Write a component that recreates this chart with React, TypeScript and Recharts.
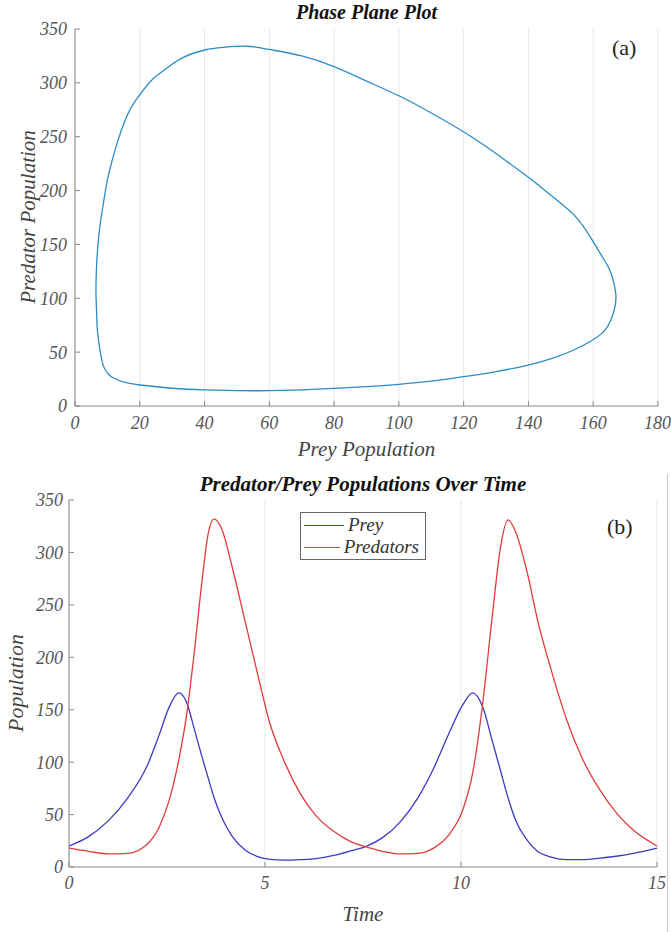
import React from "react";
import { LineChart, Line, XAxis, YAxis, CartesianGrid, Legend } from "recharts";

// phase plane loop (prey, predator) (a)
const phasePrey = [
  20, 30, 40, 50, 60, 70, 80, 90, 100, 110, 120, 130, 140, 148, 154, 159.7,
  163.5, 165.5, 166.7, 167, 166.3, 165, 162.5, 159.5, 154.5, 148, 141, 132,
  122.4, 110, 100, 89, 80, 70, 60, 53, 46, 40, 33, 28.3, 24.2, 20, 16, 12.4,
  10.8, 9.8, 8.6, 7.7, 7.1, 6.7, 6.5, 6.5, 6.7, 6.9, 7.7, 8.8, 10.2, 11.9, 15,
  20,
];
const phasePredator = [
  19.5, 16.5, 15, 14.3, 14.2, 15, 16.4, 18, 20.1, 23, 27.2, 32, 38, 45, 52, 61,
  70, 80, 92, 103, 115, 127, 140, 155, 176, 193, 210, 230, 250, 272, 288, 303,
  315, 325, 331, 334, 333, 330.5, 323, 313.5, 304, 289, 269, 238, 220, 207,
  185, 167, 150, 132, 115, 101, 85, 71, 52, 37, 30, 26, 22.5, 19.5,
];
const preyTicks = [0, 20, 40, 60, 80, 100, 120, 140, 160, 180];
const popTicks = [0, 50, 100, 150, 200, 250, 300, 350];

// time series (b)
const time = [
  0, 0.5, 1, 1.5, 2, 2.3, 2.55, 2.8, 3.0, 3.2, 3.4, 3.55, 3.7, 3.9, 4.15, 4.5,
  4.85, 5.1, 5.5, 5.9, 6.3, 6.75, 7.2, 7.6, 8.0, 8.45, 8.9, 9.3, 9.7, 10.05,
  10.3, 10.55, 10.8, 11.0, 11.2, 11.4, 11.7, 11.95, 12.3, 12.7, 13.1, 13.55,
  14.0, 14.4, 15,
];
const prey = [
  20, 29, 44, 66, 97, 126, 152, 166, 157, 131, 104, 85, 66, 47, 30, 16, 9.5,
  7.5, 6.5, 7, 8, 11, 15.5, 20, 28, 43, 66, 94, 128, 155, 166, 153, 120, 93,
  66, 44, 25, 15, 9.5, 7, 7, 8.5, 10.5, 13, 18,
];
const predators = [
  18, 15, 12.5, 13, 22, 38, 63, 102, 145, 206, 275, 318, 332, 322, 288, 233,
  178, 140, 100, 70, 49, 34, 24, 19, 15, 12.5, 13, 18, 31, 55, 90, 155, 240,
  303, 331, 319, 279, 236, 188, 140, 103, 73, 50, 35, 20,
];
const timeTicks = [0, 5, 10, 15];

const phaseData = phasePrey.map((x, i) => ({ prey: x, predator: phasePredator[i] }));
const timeData = time.map((t, i) => ({ t, prey: prey[i], predators: predators[i] }));

const serif = "Liberation Serif, DejaVu Serif, serif";
const axisColor = "#8a8a8a";
const tickStyle = { fill: "#555", fontSize: 18, fontStyle: "italic", fontFamily: serif };

const abs = (s: React.CSSProperties): React.CSSProperties => ({ position: "absolute", ...s });

function LegendBox() {
  const row = (color: string, name: string) => (
    <div style={{ display: "flex", alignItems: "center", height: 22 }}>
      <div style={{ width: 40, height: 0, borderTop: `1.5px solid ${color}`, marginRight: 4 }} />
      <span style={{ fontFamily: serif, fontStyle: "italic", fontSize: 19, color: "#333" }}>{name}</span>
    </div>
  );
  return (
    <div style={{ border: "1px solid #666", background: "#fff", padding: "1px 6px 1px 3px", width: 115 }}>
      {row("#3b3bc4", "Prey")}
      {row("#e23b3b", "Predators")}
    </div>
  );
}

export default function App() {
  return (
    <div style={abs({ left: 0, top: 0, width: 671, height: 932, background: "#fff" })}>
      {/* (a) phase plane */}
      <div style={abs({ left: 0, top: 0 })}>
        <LineChart width={671} height={450} data={phaseData} margin={{ top: 29, right: 13, left: 35, bottom: 14 }}>
          <CartesianGrid horizontal={false} stroke="#e6e6e6" />
          <XAxis
            type="number" dataKey="prey" domain={[0, 180]} ticks={preyTicks}
            stroke={axisColor} tickSize={-5} tickMargin={15} height={30} tick={tickStyle}
          />
          <XAxis
            xAxisId="top" orientation="top" type="number" dataKey="prey" domain={[0, 180]}
            ticks={preyTicks} stroke={axisColor} tickSize={-5} height={0} tick={false}
          />
          <YAxis
            type="number" domain={[0, 350]} ticks={popTicks} width={40}
            stroke={axisColor} tickSize={-5} tickMargin={13} tick={tickStyle}
          />
          <YAxis
            yAxisId="right" orientation="right" type="number" domain={[0, 350]} ticks={popTicks}
            width={0} stroke={axisColor} tickSize={-5} tick={false}
          />
          <Line
            type="natural" dataKey="predator" stroke="#2b8cc8" strokeWidth={1.3}
            dot={false} isAnimationActive={false}
          />
        </LineChart>
      </div>
      <div style={abs({ left: 75, width: 583, top: 1, textAlign: "center", fontFamily: serif, fontWeight: "bold", fontStyle: "italic", fontSize: 20, color: "#111" })}>
        Phase Plane Plot
      </div>
      <div style={abs({ left: 612, top: 35, fontFamily: serif, fontSize: 22, color: "#222" })}>(a)</div>
      <div style={abs({ left: 75, width: 583, top: 437, textAlign: "center", fontFamily: serif, fontStyle: "italic", fontSize: 21, color: "#444" })}>
        Prey Population
      </div>
      <div style={abs({ left: 28, top: 217, width: 0, height: 0 })}>
        <div style={{ transform: "translate(-50%, -50%) rotate(-90deg)", whiteSpace: "nowrap", fontFamily: serif, fontStyle: "italic", fontSize: 21, color: "#444", display: "inline-block" }}>
          Predator Population
        </div>
      </div>

      {/* (b) populations over time */}
      <div style={abs({ left: 0, top: 470 })}>
        <LineChart width={671} height={462} data={timeData} margin={{ top: 30, right: 14, left: 29, bottom: 35 }}>
          <CartesianGrid horizontal={false} stroke="#e6e6e6" />
          <XAxis
            type="number" dataKey="t" domain={[0, 15]} ticks={timeTicks}
            stroke={axisColor} tickSize={-5} tickMargin={14} height={30} tick={tickStyle}
          />
          <XAxis
            xAxisId="top" orientation="top" type="number" dataKey="t" domain={[0, 15]}
            ticks={timeTicks} stroke={axisColor} tickSize={-5} height={0} tick={false}
          />
          <YAxis
            type="number" domain={[0, 350]} ticks={popTicks} width={40}
            stroke={axisColor} tickSize={-5} tickMargin={11} tick={tickStyle}
          />
          <YAxis
            yAxisId="right" orientation="right" type="number" domain={[0, 350]} ticks={popTicks}
            width={0} stroke={axisColor} tickSize={-5} tick={false}
          />
          <Legend
            layout="vertical" align="center" verticalAlign="middle"
            wrapperStyle={{ left: 300, top: 42, width: "auto" }}
            content={() => <LegendBox />}
          />
          <Line
            type="monotone" dataKey="prey" name="Prey" stroke="#3b3bc4" strokeWidth={1.3}
            dot={false} isAnimationActive={false}
          />
          <Line
            type="monotone" dataKey="predators" name="Predators" stroke="#e23b3b" strokeWidth={1.3}
            dot={false} isAnimationActive={false}
          />
        </LineChart>
      </div>
      <div style={abs({ left: 69, width: 588, top: 472, textAlign: "center", fontFamily: serif, fontWeight: "bold", fontStyle: "italic", fontSize: 21, color: "#111" })}>
        Predator/Prey Populations Over Time
      </div>
      <div style={abs({ left: 607, top: 514, fontFamily: serif, fontSize: 22, color: "#222" })}>(b)</div>
      <div style={abs({ left: 69, width: 588, top: 902, textAlign: "center", fontFamily: serif, fontStyle: "italic", fontSize: 21, color: "#444" })}>
        Time
      </div>
      <div style={abs({ left: 16, top: 683, width: 0, height: 0 })}>
        <div style={{ transform: "translate(-50%, -50%) rotate(-90deg)", whiteSpace: "nowrap", fontFamily: serif, fontStyle: "italic", fontSize: 22, color: "#444", display: "inline-block" }}>
          Population
        </div>
      </div>
      <div style={abs({ left: 667, top: 474, width: 1, height: 458, background: "#c8c8c8" })} />
    </div>
  );
}
